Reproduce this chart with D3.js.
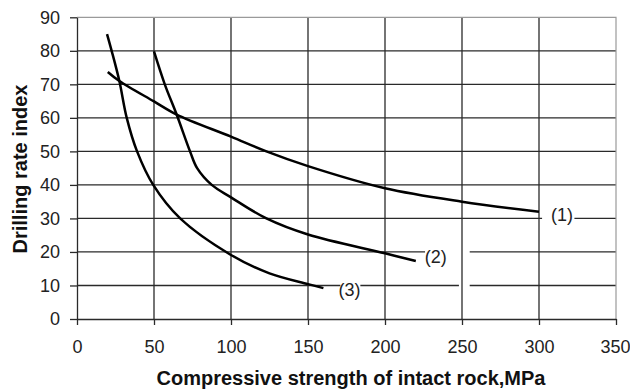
<!DOCTYPE html>
<html>
<head>
<meta charset="utf-8">
<script src="https://cdn.jsdelivr.net/npm/d3@7"></script>
<style>
  html, body { margin: 0; padding: 0; background: #fff; }
  svg { display: block; font-family: "Liberation Sans", Arial, sans-serif; }
</style>
</head>
<body>
<svg id="chart" width="630" height="391"></svg>
<script>
// Drilling rate index vs. compressive strength of intact rock (three relations)
const xTicks = [0, 50, 100, 150, 200, 250, 300, 350];
const yTicks = [0, 10, 20, 30, 40, 50, 60, 70, 80, 90];

const curve1 = [[20, 73.7], [27.5, 71], [50, 64.9], [64.7, 61], [100, 54.4], [123, 50],
                [150, 45.6], [200, 39], [250, 35], [300, 32]];
const curve2 = [[50, 79.8], [57, 70], [64.7, 61], [73.4, 50], [78, 45], [87.5, 40], [100, 36.3],
                [123, 30], [150, 25.2], [200, 19.6], [220, 17.3]];
const curve3 = [[19.5, 85], [22.5, 80], [27.5, 71], [32.3, 60], [39, 50], [49.5, 40], [67, 30],
                [100, 19.1], [125, 13.6], [150, 10.4], [160, 9.2]];

// Curve labels, placed in data units
const labelText = ["(1)", "(2)", "(3)"];
const labelX = [315, 233, 177];
const labelY = [31, 18.6, 8.7];

// Breaks in the horizontal grid lines around the labels: [grid value, from x, to x]
const gridBreaks = [[30, 302, 323], [20, 226, 255], [10, 248, 255], [10, 171, 184]];

const svg = d3.select("#chart");
const x = d3.scaleLinear().domain([0, 350]).range([77, 616]);
const y = d3.scaleLinear().domain([0, 90]).range([319, 17.3]);

const gridColor = "#2a2a2a";

// horizontal grid lines
svg.append("g").selectAll("line")
  .data(yTicks.filter(v => v > 0 && v < 90))
  .join("line")
  .attr("x1", x(0)).attr("x2", x(350))
  .attr("y1", d => y(d)).attr("y2", d => y(d))
  .attr("stroke", gridColor).attr("stroke-width", 1.3);

// gaps in the grid lines behind the labels
svg.append("g").selectAll("rect")
  .data(gridBreaks)
  .join("rect")
  .attr("x", d => x(d[1])).attr("width", d => x(d[2]) - x(d[1]))
  .attr("y", d => y(d[0]) - 3).attr("height", 6)
  .attr("fill", "#fff");

// vertical grid lines
svg.append("g").selectAll("line")
  .data(xTicks.filter(v => v > 0 && v < 350))
  .join("line")
  .attr("x1", d => x(d)).attr("x2", d => x(d))
  .attr("y1", y(0)).attr("y2", y(90))
  .attr("stroke", gridColor).attr("stroke-width", 1.3);

// plot border (top and right)
svg.append("path")
  .attr("d", `M${x(0)},${y(90)}H${x(350)}V${y(0)}`)
  .attr("fill", "none").attr("stroke", "#9a9a9a").attr("stroke-width", 1.2);

// axes
const yAxis = d3.axisLeft(y).tickValues(yTicks).tickSize(7).tickSizeOuter(0).tickPadding(10);
const xAxis = d3.axisBottom(x).tickValues(xTicks).tickSize(6).tickSizeOuter(0).tickPadding(15);

const gy = svg.append("g").attr("transform", `translate(${x(0)},0)`).call(yAxis);
const gx = svg.append("g").attr("transform", `translate(0,${y(0)})`).call(xAxis);
[gx, gy].forEach(g => {
  g.select(".domain").attr("stroke", gridColor).attr("stroke-width", 1.3);
  g.selectAll(".tick line").attr("stroke", gridColor).attr("stroke-width", 1.3);
  g.selectAll(".tick text")
    .attr("font-family", "'Liberation Sans', Arial, sans-serif")
    .attr("font-size", 18).attr("fill", "#222");
});
// keep the last x label inside the page edge
gx.selectAll(".tick text")
  .filter(d => d === xTicks[xTicks.length - 1])
  .attr("text-anchor", "end").attr("x", 14);

// curves
const line = d3.line().x(d => x(d[0])).y(d => y(d[1])).curve(d3.curveCatmullRom.alpha(0.5));
svg.append("g").selectAll("path")
  .data([curve1, curve2, curve3])
  .join("path")
  .attr("d", line)
  .attr("fill", "none").attr("stroke", "#000").attr("stroke-width", 2.5)
  .attr("stroke-linejoin", "round");

// curve labels
svg.append("g").selectAll("text")
  .data(labelText)
  .join("text")
  .attr("x", (d, i) => x(labelX[i]))
  .attr("y", (d, i) => y(labelY[i]))
  .attr("dy", "0.35em")
  .attr("text-anchor", "middle")
  .attr("font-size", 18).attr("fill", "#222")
  .text(d => d);

// axis titles
svg.append("text")
  .attr("x", 351).attr("y", 385)
  .attr("text-anchor", "middle")
  .attr("font-size", 20).attr("font-weight", "bold").attr("fill", "#111")
  .text("Compressive strength of intact rock,MPa");

svg.append("text")
  .attr("transform", "translate(27,169) rotate(-90)")
  .attr("text-anchor", "middle")
  .attr("font-size", 20).attr("font-weight", "bold").attr("fill", "#111")
  .text("Drilling rate index");
</script>
</body>
</html>
